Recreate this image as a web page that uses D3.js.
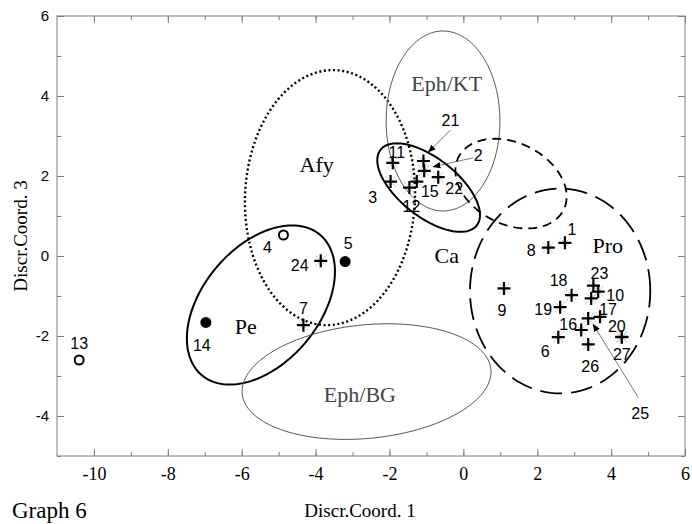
<!DOCTYPE html>
<html>
<head>
<meta charset="utf-8">
<script src="https://cdn.jsdelivr.net/npm/d3@7"></script>
<style>
  body { margin: 0; background: #fff; }
  svg { display: block; }
</style>
</head>
<body>
<script>
// points (discriminant coordinates 1 and 3)
const pointIds  = ["1","2","3","4","5","6","7","8","9","10","11","12","13","14",
                   "15","16","17","18","19","20","21","22","23","24","25","26","27",""];
const pointX    = [2.75,-1.06,-1.97,-4.87,-3.20,2.57,-4.33,2.30,1.10,3.65,-1.91,-1.46,-10.40,-6.97,
                   -1.26,3.19,3.70,2.93,2.62,4.29,-1.08,-0.68,3.52,-3.86,3.38,3.38,4.29,3.46];
const pointY    = [0.33,2.13,1.86,0.525,-0.14,-2.03,-1.73,0.21,-0.81,-0.89,2.33,1.71,-2.60,-1.66,
                   1.86,-1.85,-1.52,-0.98,-1.28,-2.02,2.375,1.97,-0.74,-0.12,-1.56,-2.21,-2.03,-1.06];
const pointKind = ["cross","cross","cross","ring","dot","cross","cross","cross","cross","cross","cross","cross","ring","dot",
                   "cross","cross","cross","cross","cross","cross","cross","cross","cross","cross","cross","cross","cross","cross"];

// group ellipses
const ellipseNames = ["Afy","Eph/KT","Ca1","Ca2","Pro","Pe","Eph/BG"];
const ellipseCx    = [-3.61,-0.55,-0.94,1.29,2.62,-5.48,-2.62];
const ellipseCy    = [1.46,3.375,1.71,1.81,-0.875,-1.225,-3.14];
const ellipseA     = [2.30,1.54,1.61,1.57,2.44,2.38,3.38];
const ellipseB     = [3.19,2.25,0.75,1.03,2.56,1.52,1.42];
const ellipseAngle = [-3,0,-34.8,-22,0,44.5,5];

// group labels
const groupNames = ["Afy","Eph/KT","Ca","Pe","Eph/BG","Pro"];
const groupX     = [-3.97,-0.45,-0.45,-5.89,-2.80,3.91];
const groupY     = [2.30,4.32,0.025,-1.75,-3.45,0.275];

const xTicks = [-10,-8,-6,-4,-2,0,2,4,6];
const yTicks = [-4,-2,0,2,4,6];

// label offsets in px from each point
const labelOffset = {
  "1":[7,-13],"2":[54,-15],"3":[-18,16],"4":[-16,12],"5":[3,-18],"6":[-13,14],"7":[0,-17],
  "8":[-17,3],"9":[-2,22],"10":[17,4],"11":[4,-10],"12":[2,19],"13":[0,-17],"14":[-4,23],
  "15":[13,10],"16":[-13,-6],"17":[8,-7],"18":[-13,-15],"19":[-17,2],"20":[-5,-10],
  "21":[27,-41],"22":[16,11],"23":[6,-12],"24":[-21,5],"25":[52,95],"26":[2,22],"27":[0,17]
};
const arrows = {
  "21":[[27,-31],[5,-9]],
  "2":[[49,-13],[9,-4]],
  "25":[[50,79],[5,6]]
};
const ellipseStyle = {
  "Afy":   {stroke:"#000", width:2.4, dash:"2,2.6"},
  "Eph/KT":{stroke:"#555", width:1,   dash:null},
  "Ca1":   {stroke:"#000", width:2,   dash:null},
  "Ca2":   {stroke:"#000", width:1.8, dash:"9,6"},
  "Pro":   {stroke:"#000", width:1.8, dash:"22,9"},
  "Pe":    {stroke:"#000", width:2,   dash:null},
  "Eph/BG":{stroke:"#555", width:1,   dash:null}
};

const serif = "'Liberation Serif', 'Times New Roman', serif";
const sans = "'Liberation Sans', Arial, sans-serif";

const W = 692, H = 524;
const mLeft = 57, mRight = 685, mTop = 16, mBottom = 456;

const svg = d3.select("body").append("svg")
  .attr("width", W).attr("height", H);

const x = d3.scaleLinear().domain([-11, 6]).range([mLeft, mRight]);
const y = d3.scaleLinear().domain([-5, 6]).range([mBottom, mTop]);

// frame
svg.append("rect")
  .attr("x", mLeft).attr("y", mTop)
  .attr("width", mRight - mLeft).attr("height", mBottom - mTop)
  .attr("fill", "none").attr("stroke", "#808080").attr("stroke-width", 1);

const minorX = d3.range(-10, 7, 1);
const minorY = d3.range(-5, 7, 1);

function styleAxis(g) {
  g.select(".domain").remove();
  g.selectAll(".tick line").attr("stroke", "#808080");
}

// bottom axis with labels
svg.append("g")
  .attr("transform", "translate(0," + mBottom + ")")
  .call(d3.axisBottom(x).tickValues(xTicks).tickSize(-7).tickPadding(11).tickFormat(d => String(d)))
  .call(styleAxis)
  .call(g => g.selectAll("text")
    .style("font-family", serif)
    .style("font-size", "18px").attr("fill", "#000"));
svg.append("g")
  .attr("transform", "translate(0," + mBottom + ")")
  .call(d3.axisBottom(x).tickValues(minorX).tickSize(-4).tickFormat(""))
  .call(styleAxis);
svg.append("g")
  .attr("transform", "translate(0," + mTop + ")")
  .call(d3.axisTop(x).tickValues(xTicks).tickSize(-7).tickFormat(""))
  .call(styleAxis);
svg.append("g")
  .attr("transform", "translate(0," + mTop + ")")
  .call(d3.axisTop(x).tickValues(minorX).tickSize(-4).tickFormat(""))
  .call(styleAxis);

// left axis with labels
svg.append("g")
  .attr("transform", "translate(" + mLeft + ",0)")
  .call(d3.axisLeft(y).tickValues(yTicks).tickSize(-7).tickPadding(8).tickFormat(d => String(d)))
  .call(styleAxis)
  .call(g => g.selectAll("text")
    .style("font-family", sans)
    .style("font-size", "15px").attr("fill", "#000"));
svg.append("g")
  .attr("transform", "translate(" + mLeft + ",0)")
  .call(d3.axisLeft(y).tickValues(minorY).tickSize(-4).tickFormat(""))
  .call(styleAxis);
svg.append("g")
  .attr("transform", "translate(" + mRight + ",0)")
  .call(d3.axisRight(y).tickValues(yTicks).tickSize(-7).tickFormat(""))
  .call(styleAxis);
svg.append("g")
  .attr("transform", "translate(" + mRight + ",0)")
  .call(d3.axisRight(y).tickValues(minorY).tickSize(-4).tickFormat(""))
  .call(styleAxis);

// ellipses
const line = d3.line().curve(d3.curveLinearClosed);
ellipseNames.forEach((name, i) => {
  const th = ellipseAngle[i] * Math.PI / 180;
  const pts = d3.range(0, 180).map(k => {
    const t = k / 180 * 2 * Math.PI;
    const ex = ellipseA[i] * Math.cos(t), ey = ellipseB[i] * Math.sin(t);
    return [x(ellipseCx[i] + ex * Math.cos(th) - ey * Math.sin(th)),
            y(ellipseCy[i] + ex * Math.sin(th) + ey * Math.cos(th))];
  });
  const st = ellipseStyle[name];
  svg.append("path")
    .attr("d", line(pts))
    .attr("fill", "none")
    .attr("stroke", st.stroke)
    .attr("stroke-width", st.width)
    .attr("stroke-dasharray", st.dash);
});

// group labels
svg.selectAll(".group")
  .data(groupNames)
  .enter().append("text")
  .attr("x", (d, i) => x(groupX[i]))
  .attr("y", (d, i) => y(groupY[i]))
  .attr("dy", "0.35em")
  .attr("text-anchor", "middle")
  .style("font-family", serif)
  .style("font-size", "22px")
  .attr("fill", d => d.startsWith("Eph") ? "#444" : "#000")
  .text(d => d);

// arrowhead
svg.append("defs").append("marker")
  .attr("id", "head")
  .attr("viewBox", "0 0 10 10")
  .attr("refX", 9).attr("refY", 5)
  .attr("markerWidth", 8).attr("markerHeight", 8)
  .attr("markerUnits", "userSpaceOnUse")
  .attr("orient", "auto")
  .append("path").attr("d", "M0,1 L10,5 L0,9 Z").attr("fill", "#000");

const points = pointIds.map((id, i) => ({id: id, px: x(pointX[i]), py: y(pointY[i]), kind: pointKind[i]}));

// arrows
points.filter(p => arrows[p.id]).forEach(p => {
  const a = arrows[p.id];
  svg.append("line")
    .attr("x1", p.px + a[0][0]).attr("y1", p.py + a[0][1])
    .attr("x2", p.px + a[1][0]).attr("y2", p.py + a[1][1])
    .attr("stroke", "#555").attr("stroke-width", 0.8)
    .attr("marker-end", "url(#head)");
});

// markers
const mk = svg.selectAll(".pt")
  .data(points)
  .enter().append("g")
  .attr("transform", d => "translate(" + d.px + "," + d.py + ")");

mk.filter(d => d.kind === "cross").each(function() {
  const g = d3.select(this);
  g.append("path").attr("d", "M-5,-5L5,5M-5,5L5,-5")
    .attr("stroke", "#999").attr("stroke-width", 0.8).attr("stroke-dasharray", "1.5,1");
  g.append("path").attr("d", "M-6.5,0H6.5M0,-6.5V6.5")
    .attr("stroke", "#000").attr("stroke-width", 2.2);
});
mk.filter(d => d.kind === "dot").append("circle")
  .attr("r", 5.5).attr("fill", "#000");
mk.filter(d => d.kind === "ring").append("circle")
  .attr("r", 4.5).attr("fill", "#fff").attr("stroke", "#000").attr("stroke-width", 2);

// point labels
svg.selectAll(".lab")
  .data(points.filter(p => p.id !== ""))
  .enter().append("text")
  .attr("x", d => d.px + labelOffset[d.id][0])
  .attr("y", d => d.py + labelOffset[d.id][1])
  .attr("dy", "0.35em")
  .attr("text-anchor", "middle")
  .style("font-family", sans)
  .style("font-size", "16px")
  .attr("fill", "#000")
  .text(d => d.id);

// axis titles
svg.append("text")
  .attr("x", 360).attr("y", 517)
  .attr("text-anchor", "middle")
  .style("font-family", serif)
  .style("font-size", "19px")
  .text("Discr.Coord. 1");

svg.append("text")
  .attr("transform", "translate(27,236) rotate(-90)")
  .attr("text-anchor", "middle")
  .style("font-family", serif)
  .style("font-size", "19px")
  .text("Discr.Coord. 3");

svg.append("text")
  .attr("x", 12).attr("y", 518)
  .style("font-family", serif)
  .style("font-size", "23px")
  .text("Graph 6");
</script>
</body>
</html>
